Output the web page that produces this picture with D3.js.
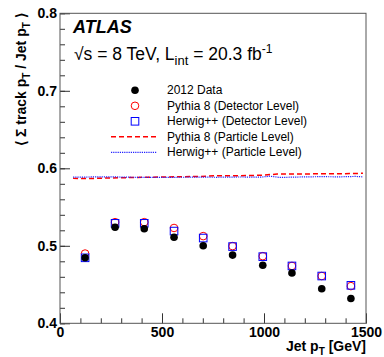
<!DOCTYPE html>
<meta charset="utf-8">
<style>
  body { margin: 0; background: white; }
  text { font-family: "Liberation Sans", Arial, sans-serif; }
  .tick text { font-size: 14px; font-weight: bold; fill: black; }
  .tick line { stroke: #333; }
  .legend-label { font-size: 12px; fill: black; }
  .axis-title { font-size: 14px; font-weight: bold; fill: black; }
</style>

<script src="https://d3js.org/d3.v7.min.js"></script>

<div id="my_dataviz"></div>

<script>
  // measured points (jet pT bin centres)
  const jetPt = [123, 270, 413, 559, 702, 846, 994, 1137, 1283, 1426]
  const dataVals    = [0.4845, 0.524, 0.522, 0.511, 0.500, 0.488, 0.475, 0.465, 0.4445, 0.432]
  const pythiaDet   = [0.490, 0.5305, 0.5305, 0.523, 0.5125, 0.4996, 0.4866, 0.474, 0.461, 0.448]
  const herwigDet   = [0.4845, 0.529, 0.529, 0.519, 0.510, 0.499, 0.486, 0.474, 0.461, 0.449]

  // particle level curves
  const pythiaPartPt  = [64, 147, 245, 343, 441, 564, 686, 770, 882, 980, 1064, 1176, 1275, 1373, 1485]
  const pythiaPart    = [0.587, 0.5868, 0.5875, 0.588, 0.5885, 0.589, 0.5895, 0.5905, 0.5905, 0.591, 0.5925, 0.5925, 0.593, 0.593, 0.5935]
  const herwigPartPt  = [64, 147, 245, 343, 441, 564, 686, 770, 882, 980, 1029, 1078, 1176, 1275, 1373, 1446, 1485]
  const herwigPart    = [0.5885, 0.5888, 0.589, 0.5885, 0.5882, 0.5884, 0.5886, 0.5884, 0.5888, 0.5885, 0.5898, 0.5882, 0.5888, 0.5892, 0.589, 0.5895, 0.589]

  const yTicks = [0.4, 0.5, 0.6, 0.7, 0.8]
  const xTicks = [0, 500, 1000, 1500]
  const legendNames = ["2012 Data", "Pythia 8 (Detector Level)", "Herwig++ (Detector Level)",
                       "Pythia 8 (Particle Level)", "Herwig++ (Particle Level)"]

  const W = 384, H = 357
  const margin = {top: 13.3, right: 18, bottom: 33.7, left: 60}
  const width = W - margin.left - margin.right,
        height = H - margin.top - margin.bottom

  const svg = d3.select("#my_dataviz")
    .append("svg")
      .attr("width", W)
      .attr("height", H)
    .append("g")
      .attr("transform", `translate(${margin.left}, ${margin.top})`)

  const x = d3.scaleLinear().domain([0, 1500]).range([0, width])
  const y = d3.scaleLinear().domain([0.4, 0.8]).range([height, 0])

  // minor ticks
  svg.append("g")
    .attr("transform", `translate(0, ${height})`)
    .call(d3.axisBottom(x).tickValues(d3.range(0, 1501, 100)).tickSize(-5).tickFormat(""))
    .call(g => g.select(".domain").remove())
  svg.append("g")
    .call(d3.axisLeft(y).tickValues(d3.range(0.4, 0.8001, 0.02)).tickSize(-5).tickFormat(""))
    .call(g => g.select(".domain").remove())

  // major ticks
  svg.append("g")
    .attr("transform", `translate(0, ${height})`)
    .call(d3.axisBottom(x).tickValues(xTicks).tickSize(-10).tickPadding(4).tickFormat(d3.format("d")))
    .call(g => g.select(".domain").remove())
  svg.append("g")
    .call(d3.axisLeft(y).tickValues(yTicks).tickSize(-10).tickPadding(3).tickFormat(d3.format(".1f")))
    .call(g => g.select(".domain").remove())

  // frame
  svg.append("rect")
    .attr("width", width).attr("height", height)
    .attr("fill", "none").attr("stroke", "#555").attr("stroke-width", 1)

  // axis titles
  const xt = svg.append("text").attr("class", "axis-title")
    .attr("text-anchor", "end")
    .attr("x", width).attr("y", height + 27.5)
  xt.append("tspan").text("Jet p")
  xt.append("tspan").attr("font-size", "10px").attr("dy", 4).text("T")
  xt.append("tspan").attr("dy", -4).text(" [GeV]")

  const yt = svg.append("text").attr("class", "axis-title")
    .attr("text-anchor", "end")
    .attr("transform", `translate(${-34}, 0) rotate(-90)`)
  yt.append("tspan").text("\u27E8 \u03A3 track p")
  yt.append("tspan").attr("font-size", "10px").attr("dy", 4).text("T")
  yt.append("tspan").attr("dy", -4).text(" / Jet p")
  yt.append("tspan").attr("font-size", "10px").attr("dy", 4).text("T")
  yt.append("tspan").attr("dy", -4).text(" \u27E9")

  // ATLAS labels
  svg.append("text")
    .attr("x", 13).attr("y", 19.5)
    .attr("font-size", "18px").attr("font-weight", "bold").attr("font-style", "italic")
    .text("ATLAS")
  const lumi = svg.append("text").attr("x", 14).attr("y", 47).attr("font-size", "17.5px")
  lumi.append("tspan").text("\u221As = 8 TeV, L")
  lumi.append("tspan").attr("font-size", "13px").attr("dy", 5).text("int")
  lumi.append("tspan").attr("dy", -5).text(" = 20.3 fb")
  lumi.append("tspan").attr("font-size", "12px").attr("dy", -7).text("-1")

  // particle level lines
  const line = d3.line().x(d => x(d[0])).y(d => y(d[1]))
  svg.append("path")
    .datum(pythiaPartPt.map((p, i) => [p, pythiaPart[i]]))
    .attr("d", line).attr("fill", "none")
    .attr("stroke", "#ff0000").attr("stroke-width", 1.5).attr("stroke-dasharray", "5,3")
  svg.append("path")
    .datum(herwigPartPt.map((p, i) => [p, herwigPart[i]]))
    .attr("d", line).attr("fill", "none")
    .attr("stroke", "#2020ff").attr("stroke-width", 1.2).attr("stroke-dasharray", "1.2,1")

  // detector level markers
  svg.append("g").selectAll("circle")
    .data(jetPt)
    .join("circle")
      .attr("cx", d => x(d))
      .attr("cy", (d, i) => y(pythiaDet[i]))
      .attr("r", 3.8)
      .attr("fill", "none").attr("stroke", "#ff0000").attr("stroke-width", 1)
  svg.append("g").selectAll("rect")
    .data(jetPt)
    .join("rect")
      .attr("x", d => x(d) - 3.8)
      .attr("y", (d, i) => y(herwigDet[i]) - 3.8)
      .attr("width", 7.6).attr("height", 7.6)
      .attr("fill", "none").attr("stroke", "#0000ff").attr("stroke-width", 1)

  // data
  svg.append("g").selectAll("circle")
    .data(jetPt)
    .join("circle")
      .attr("cx", d => x(d))
      .attr("cy", (d, i) => y(dataVals[i]))
      .attr("r", 3.8)
      .attr("fill", "black")

  // legend
  const lx = 75, ly = 77, ldy = 15.5
  const leg = svg.append("g")
  leg.selectAll("text")
    .data(legendNames)
    .join("text")
      .attr("class", "legend-label")
      .attr("x", lx + 32)
      .attr("y", (d, i) => ly + i * ldy)
      .attr("dy", "0.35em")
      .text(d => d)
  leg.append("circle").attr("cx", lx).attr("cy", ly).attr("r", 3.8).attr("fill", "black")
  leg.append("circle").attr("cx", lx).attr("cy", ly + ldy).attr("r", 3.8)
    .attr("fill", "none").attr("stroke", "#ff0000")
  leg.append("rect").attr("x", lx - 3.8).attr("y", ly + 2 * ldy - 3.8).attr("width", 7.6).attr("height", 7.6)
    .attr("fill", "none").attr("stroke", "#0000ff")
  leg.append("line").attr("x1", lx - 24).attr("x2", lx + 22)
    .attr("y1", ly + 3 * ldy).attr("y2", ly + 3 * ldy)
    .attr("stroke", "#ff0000").attr("stroke-width", 1.5).attr("stroke-dasharray", "5,3")
  leg.append("line").attr("x1", lx - 24).attr("x2", lx + 22)
    .attr("y1", ly + 4 * ldy).attr("y2", ly + 4 * ldy)
    .attr("stroke", "#2020ff").attr("stroke-width", 1.2).attr("stroke-dasharray", "1.2,1")
</script>
